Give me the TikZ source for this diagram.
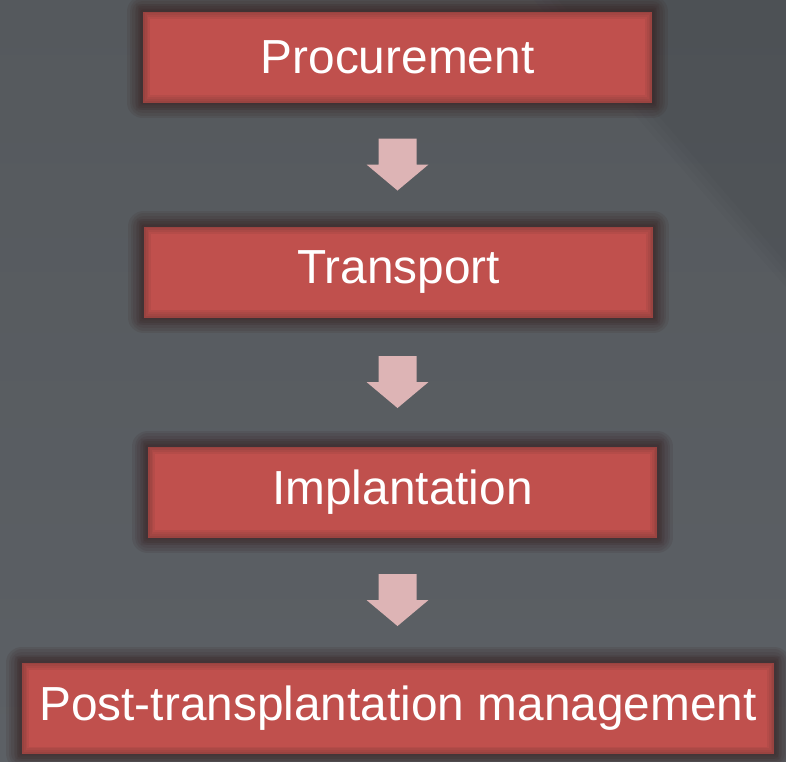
\documentclass[tikz,border=0pt]{standalone}
\usepackage{fontspec}
\setmainfont{Liberation Sans}
\usetikzlibrary{calc}

\definecolor{slate}{HTML}{5C6065}
\definecolor{slatetop}{HTML}{55595D}
\definecolor{boxred}{HTML}{C0504D}
\definecolor{halo}{HTML}{3A2626}
\definecolor{arrowpink}{HTML}{DDB4B5}

\tikzset{
  glow/.style={preaction={draw=halo, line width=#1, opacity=.13, line join=round}},
  inglow/.style={postaction={draw=halo, line width=#1, opacity=.08}},
  stage/.style={rectangle, fill=boxred, text=white, inner sep=0pt,
    minimum width=5.09cm, minimum height=0.91cm,
    font=\fontsize{13.6}{16}\selectfont,
    glow=9pt, glow=7.5pt, glow=6pt, glow=4.5pt, glow=3pt, glow=1.5pt,
    inglow=4pt, inglow=3pt, inglow=2pt, inglow=1pt},
  wide/.style={minimum width=7.52cm},
  stepfill/.style={fill=arrowpink}
}

% block arrow halfway between two stages
\newcommand\stepdown[2]{%
  \coordinate (m) at ($(#1.south)!.5!(#2.north)$);
  \fill[stepfill] (m -| proc) ++(-0.19,0.26) -- ++(0.38,0) -- ++(0,-0.26)
    -- ++(0.12,0) -- ++(-0.31,-0.26) -- ++(-0.31,0.26) -- ++(0.12,0) -- cycle;}

\begin{document}
\begin{tikzpicture}
    \useasboundingbox (0,0) rectangle (7.86,-7.61);
    \shade[top color=slatetop, bottom color=slate] (0,0) rectangle (7.86,-7.61);
    % darker corner, soft edge
    \foreach \d in {0,0.08,0.16,0.24}
      \fill[black, opacity=.015] (5.34+\d,0) -- (7.86,0) -- (7.86,-2.87+\d) -- cycle;

    \node[stage] (proc) at (3.975,-0.57) {Procurement};
    \node[stage] (trans) at (3.985,-2.72) {Transport};
    \node[stage] (impl) at (4.025,-4.92) {Implantation};
    \node[stage, wide] (post) at (3.98,-7.08) {Post-transplantation management};

    \foreach \a/\b in {proc/trans, trans/impl, impl/post} \stepdown{\a}{\b};
\end{tikzpicture}
\end{document}
